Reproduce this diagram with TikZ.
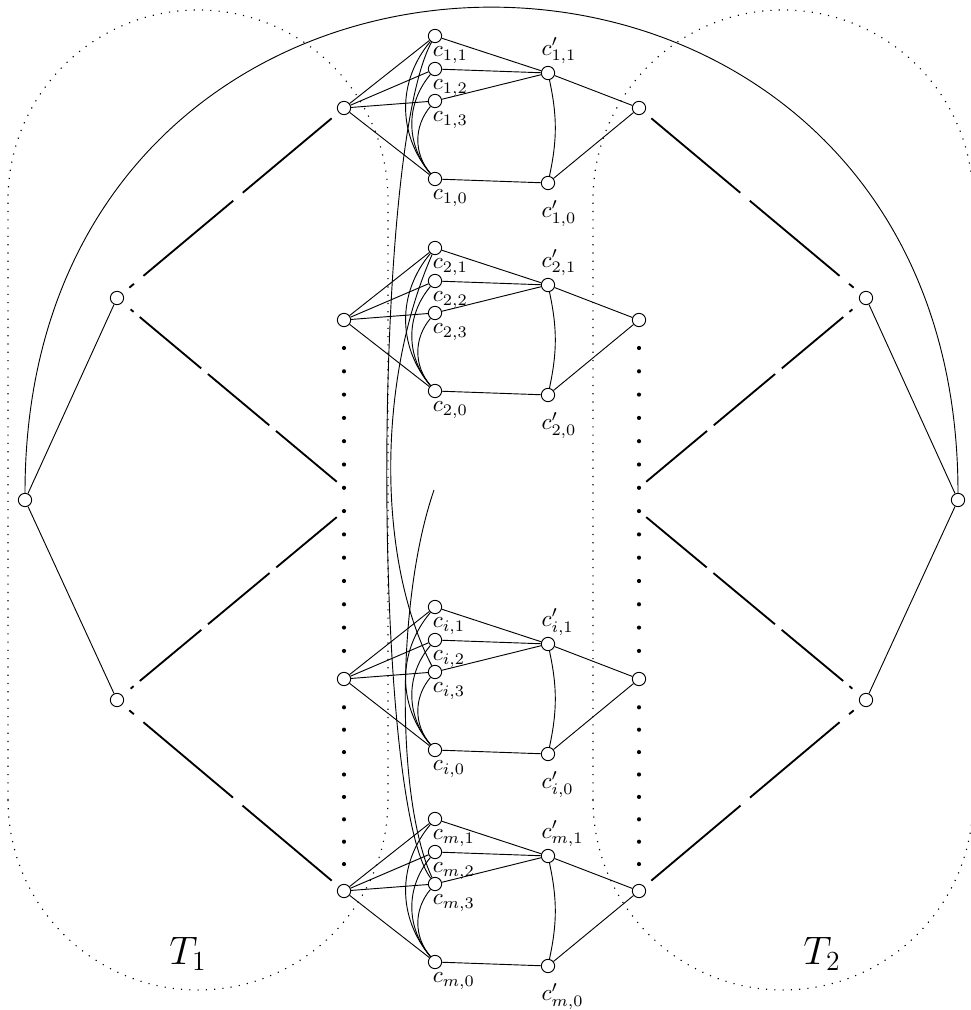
\documentclass[tikz,border=0pt]{standalone}
\usepackage{amsmath,amssymb}
\usepackage{tikz}

\begin{document}
\begin{tikzpicture}[x=0.4348pt, y=0.4348pt,
    vtx/.style={circle, draw, fill=white, inner sep=0pt, minimum size=5.8pt},
    dotv/.style={circle, fill, inner sep=0pt, minimum size=1.8pt},
    leafdash/.style={line width=0.8pt, shorten <=3.9pt, shorten >=3.9pt,
      dash pattern=on 2.6pt off 5.4pt on 50.9pt off 5.4pt on 50.9pt off 40pt},
    gapdash/.style={line width=0.8pt, shorten <=4.6pt, shorten >=3pt,
      dash pattern=on 1.7pt off 3.5pt on 34.8pt off 3.8pt on 34.8pt off 3.8pt on 34.8pt off 40pt},
    region/.style={line width=0.5pt, dash pattern=on 0.5pt off 3.1pt},
    lab/.style={anchor=base west, inner sep=0pt}]
    \useasboundingbox (0,0) rectangle (971,1010);

    % the two tree regions
    \draw[region] (8,210) -- (8,810) arc[start angle=180, end angle=0, radius=190]
      -- (388,210) arc[start angle=0, end angle=-180, radius=190] -- cycle;
    \draw[region] (593,210) -- (593,810) arc[start angle=180, end angle=0, radius=190]
      -- (973,210) arc[start angle=0, end angle=-180, radius=190] -- cycle;
    \node[font=\LARGE] (tl1) at (188,56) {$T_1$};
    \node[font=\LARGE] (tl2) at (822,56) {$T_2$};

    % clause gadgets
    \foreach \g/\yy in {1/902, 2/690, i/331, m/119} {
      \node[vtx] (a\g) at (344,\yy) {};
      \node[vtx] (c\g1) at (435,\yy+72) {};
      \node[vtx] (c\g2) at (435,\yy+39) {};
      \node[vtx] (c\g3) at (435,\yy+7) {};
      \node[vtx] (c\g0) at (435,\yy-71) {};
      \node[vtx] (d\g1) at (548,\yy+35) {};
      \node[vtx] (d\g0) at (548,\yy-75) {};
      \node[vtx] (b\g) at (639,\yy) {};

      \draw (a\g) -- (c\g1) (a\g) -- (c\g2) (a\g) -- (c\g3) (a\g) -- (c\g0);
      \draw (c\g1) -- (d\g1) (c\g2) -- (d\g1) (c\g3) -- (d\g1) (c\g0) -- (d\g0);
      \draw (d\g1) -- (b\g) (d\g0) -- (b\g);
      \draw (d\g1) to[bend left=12] (d\g0);
      \foreach \k in {1,2,3}
        \draw (c\g\k) to[bend right=40] (c\g0);

      \foreach \k in {1,2,3,0}
        \node[lab] (lc\g\k) at ([shift={(-1.1pt,-9.1pt)}]c\g\k.center) {$c_{\g,\k}$};
      \node[lab] (ld\g1) at ([shift={(-3pt,7.8pt)}]d\g1.center) {$c'_{\g,1}$};
      \node[lab] (ld\g0) at ([shift={(-3pt,-15pt)}]d\g0.center) {$c'_{\g,0}$};
    }

    % literal edges between gadgets
    \draw (c11) .. controls (372,860) and (372,210) .. (cm3);
    \draw (c21) .. controls (377,630) and (377,450) .. (ci3);
    \coordinate (loose) at (434,520);
    \draw (loose) .. controls (396,410) and (396,210) .. (cm3);

    % omitted gadgets
    \foreach \k in {0,...,13} {
      \node[dotv] (lu\k) at (344,{662-23.3*\k}) {};
      \node[dotv] (ru\k) at (639,{662-23.3*\k}) {};
    }
    \foreach \k in {0,...,7} {
      \node[dotv] (ll\k) at (344,{302.7-22.4*\k}) {};
      \node[dotv] (rl\k) at (639,{302.7-22.4*\k}) {};
    }

    % trees
    \node[vtx] (s0) at (25,510) {};
    \node[vtx] (s1) at (117,712) {};
    \node[vtx] (s2) at (117,310) {};
    \node[vtx] (t0) at (958,510) {};
    \node[vtx] (t1) at (866,712) {};
    \node[vtx] (t2) at (866,310) {};
    \draw (s0) -- (s1) (s0) -- (s2) (t0) -- (t1) (t0) -- (t2);
    \draw[leafdash] (s1) -- (a1);
    \draw[gapdash] (s1) -- (lu6);
    \draw[gapdash] (s2) -- (lu7);
    \draw[leafdash] (s2) -- (am);
    \draw[leafdash] (t1) -- (b1);
    \draw[gapdash] (t1) -- (ru6);
    \draw[gapdash] (t2) -- (ru7);
    \draw[leafdash] (t2) -- (bm);

    \draw (s0) to[out=90, in=90, looseness=1.78] (t0);
\end{tikzpicture}
\end{document}
